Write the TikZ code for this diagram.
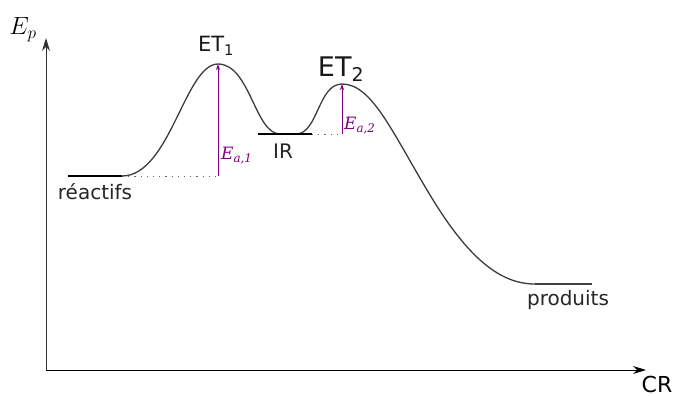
\documentclass[tikz,border=0pt]{standalone}
\usepackage{fontspec}
\setmainfont{DejaVu Sans}
\newfontfamily\eafont{DejaVu Serif}
\usetikzlibrary{arrows.meta,calc}
\definecolor{CurveGray}{RGB}{60,60,60}
\definecolor{EaPurple}{RGB}{128,0,128}

\begin{document}
\begin{tikzpicture}[x=1pt, y=-1pt,
  every node/.style={inner sep=0pt},
  lvl/.style={line width=1.6pt, black},
  lbl/.style={font=\fontsize{20}{20}\selectfont, text=black!85},
  ealbl/.style={font=\eafont\itshape\fontsize{17}{17}\selectfont, text=EaPurple, anchor=west},
  eaarrow/.style={-{Stealth[length=6pt,width=4pt]}, EaPurple, line width=0.8pt},
  guide/.style={dash pattern=on 1.2pt off 5pt, line width=1pt, black!60}]
  \useasboundingbox (0,0) rectangle (675,396);
  % axes
  \coordinate (o) at (46,370);
  \coordinate (ytop) at (46,38);
  \coordinate (xend) at (646,370);
  \draw[-{Stealth[length=13pt,width=8pt]}, line width=0.9pt, black!80] (o) -- (ytop);
  \draw[-{Stealth[length=13pt,width=8pt]}, line width=0.9pt, black] (o) -- (xend);
  \node (ep) at (23,30) {\fontsize{27}{27}\selectfont$E_p$};
  \node (cr) at (657,384) {\fontsize{22}{22}\selectfont CR};
  % levels
  \coordinate (rA) at (68,176);  \coordinate (rB) at (122,176);
  \coordinate (iA) at (258,134); \coordinate (iB) at (312,134);
  \coordinate (pA) at (535,284); \coordinate (pB) at (592,284);
  \coordinate (et1) at (218,64);
  \coordinate (et2) at (342,84);
  \coordinate (e1base) at (218,176);
  \coordinate (e2base) at (342,134);
  % energy profile
  \draw[CurveGray, line width=1.3pt] (rB)
    .. controls (170,176) and (185,64) .. (et1)
    .. controls (250,64) and (255,134) .. (280,134) -- (296,134)
    .. controls (318,134) and (318,84) .. (et2)
    .. controls (372,84) and (392,132) .. (430,195)
    .. controls (468,258) and (500,284) .. (pA);
  \draw[lvl] (rA) -- (rB);
  \draw[lvl] (iA) -- (iB);
  \draw[lvl, black!75] (pA) -- (pB);
  % activation energies
  \draw[guide] (rB) -- (e1base);
  \draw[guide] (iB) -- (e2base);
  \draw[eaarrow] (e1base) -- (et1);
  \draw[eaarrow] (e2base) -- (et2);
  \node[ealbl] (ea1) at (221,156) {E\textsubscript{a,1}};
  \node[ealbl] (ea2) at (344,126) {E\textsubscript{a,2}};
  % labels
  \node[lbl] (reac) at (95,192) {réactifs};
  \node[lbl] (ir) at (283,151) {IR};
  \node[lbl] (prod) at (568,300) {produits};
  \node[font=\fontsize{21}{21}\selectfont, text=black!90] (t1) at (216,46) {ET\textsubscript{1}};
  \node[font=\fontsize{27}{27}\selectfont, text=black!90] (t2) at (341,69) {ET\textsubscript{2}};
\end{tikzpicture}
\end{document}
